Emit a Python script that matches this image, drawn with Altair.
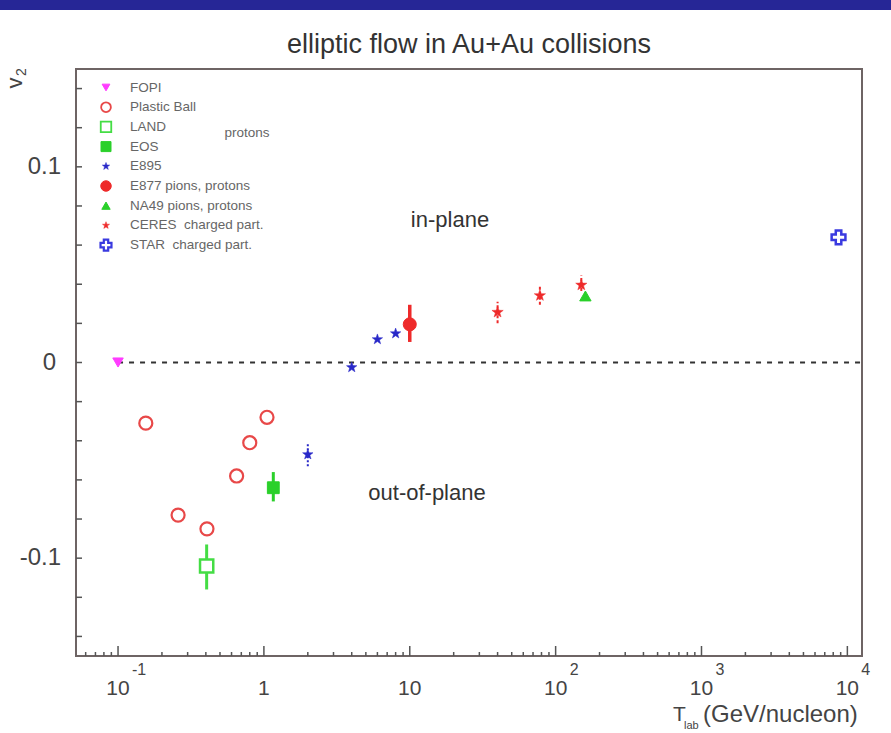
import altair as alt
import pandas as pd

# ---------------- data ----------------
fopi_x = [0.1]
fopi_y = [0.0]

plastic_x = [0.155, 0.258, 0.407, 0.65, 0.80, 1.05]
plastic_y = [-0.031, -0.078, -0.085, -0.058, -0.041, -0.028]

land_x = [0.405]
land_y = [-0.104]
land_lo = [-0.116]
land_hi = [-0.093]

eos_x = [1.16]
eos_y = [-0.064]
eos_lo = [-0.071]
eos_hi = [-0.056]

e895_x = [2.0, 4.0, 6.0, 8.0]
e895_y = [-0.047, -0.0025, 0.0118, 0.0148]
e895_err_x = [2.0]
e895_lo = [-0.053]
e895_hi = [-0.041]

e877_x = [10.0]
e877_y = [0.0195]
e877_lo = [0.0105]
e877_hi = [0.0295]

na49_x = [160.0]
na49_y = [0.034]

ceres_x = [40.0, 78.0, 150.0]
ceres_y = [0.0257, 0.0342, 0.0396]
ceres_lo = [0.0200, 0.0295, 0.0365]
ceres_hi = [0.0310, 0.0395, 0.0445]

star_x = [8700.0]
star_y = [0.064]

zero_line_x = [0.1]
zero_line_x2 = [12600.0]

# axis ticks and labels
x_major = [0.1, 1, 10, 100, 1000, 10000]
x_minor = [0.06, 0.07, 0.08, 0.09] + [m * d for d in (0.1, 1, 10, 100, 1000) for m in range(2, 10)]
y_ticks = [-0.14, -0.12, -0.10, -0.08, -0.06, -0.04, -0.02, 0.0,
           0.02, 0.04, 0.06, 0.08, 0.10, 0.12, 0.14]
x_label_vals = [0.1, 1, 10, 100, 1000, 10000]
x_label_base = ["10", "1", "10", "10", "10", "10"]
x_label_exp = ["-1", "", "", "2", "3", "4"]
y_label_vals = [0.1, 0.0, -0.1]
y_label_text = ["0.1", "0", "-0.1"]
y_label_right = [-15, -20, -15]

legend_labels = ["FOPI", "Plastic Ball", "LAND", "EOS", "E895",
                 "E877 pions, protons", "NA49 pions, protons",
                 "CERES\u00a0\u00a0charged part.", "STAR\u00a0\u00a0charged part."]

# ---------------- style ----------------
W, H = 786, 587
FONT = "Liberation Sans"
STAR = ("M0,-1L0.235,-0.324L0.951,-0.309L0.380,0.124L0.588,0.809L0,0.4"
        "L-0.588,0.809L-0.380,0.124L-0.951,-0.309L-0.235,-0.324Z")
MAGENTA = "#ff3cff"
RED = "#ee2a2a"
RED_OPEN = "#e84848"
GREEN = "#2ad02a"
GREEN_OPEN = "#44dd44"
BLUE = "#2828c8"
BLUE_STAR = "#3a3ae0"

xs = alt.Scale(type="log", domain=[0.0515, 12600], nice=False)
ys = alt.Scale(domain=[-0.15, 0.15], nice=False, zero=False)


def X(f="x"):
    return alt.X(f"{f}:Q", scale=xs, axis=None)


def Y(f="y"):
    return alt.Y(f"{f}:Q", scale=ys, axis=None)


def pts(xv, yv):
    return pd.DataFrame({"x": xv, "y": yv})


def errs(xv, lo, hi):
    return pd.DataFrame({"x": xv, "lo": lo, "hi": hi})


layers = []

# header bar of the slide
layers.append(
    alt.Chart(pd.DataFrame({"a": [0]})).mark_rect(color="#262696").encode(
        x=alt.value(-76), x2=alt.value(815), y=alt.value(-69), y2=alt.value(-59)
    )
)

# zero line
layers.append(
    alt.Chart(pd.DataFrame({"x": zero_line_x, "x2": zero_line_x2, "y": [0.0]}))
    .mark_rule(color="#333333", strokeWidth=2, strokeDash=[5, 6])
    .encode(x=X(), x2="x2:Q", y=Y())
)

# error bars
def errbar(xv, lo, hi, color, width, dash=None):
    kw = dict(color=color, strokeWidth=width)
    if dash:
        kw["strokeDash"] = dash
    return alt.Chart(errs(xv, lo, hi)).mark_rule(**kw).encode(x=X(), y=Y("lo"), y2="hi:Q")

layers.append(errbar(land_x, land_lo, land_hi, GREEN_OPEN, 3))
layers.append(errbar(eos_x, eos_lo, eos_hi, GREEN, 3))
layers.append(errbar(e877_x, e877_lo, e877_hi, RED, 3.5))
layers.append(errbar(e895_err_x, e895_lo, e895_hi, BLUE, 2, [2, 2]))
layers.append(errbar(ceres_x, ceres_lo, ceres_hi, RED, 2, [3, 2]))

# markers
def marker(xv, yv, shape, size, fill, stroke, sw=2):
    return alt.Chart(pts(xv, yv)).mark_point(
        shape=shape, size=size, filled=True, fill=fill, stroke=stroke,
        strokeWidth=sw, opacity=1
    ).encode(x=X(), y=Y())

layers.append(marker(fopi_x, fopi_y, "triangle-down", 110, MAGENTA, MAGENTA, 1))
layers.append(marker(plastic_x, plastic_y, "circle", 170, "white", RED_OPEN, 2.2))
layers.append(marker(land_x, land_y, "square", 175, "white", GREEN_OPEN, 2.5))
layers.append(marker(eos_x, eos_y, "square", 140, GREEN, GREEN, 1))
layers.append(marker(e895_x, e895_y, STAR, 120, BLUE, BLUE, 0.5))
layers.append(marker(e877_x, e877_y, "circle", 170, RED, RED, 1))
layers.append(marker(ceres_x, ceres_y, STAR, 140, RED, RED, 0.5))
layers.append(marker(na49_x, na49_y, "triangle-up", 130, GREEN, GREEN, 1))
layers.append(marker(star_x, star_y, "cross", 190, "white", BLUE_STAR, 2.5))

# legend
leg = pd.DataFrame({
    "label": legend_labels,
    "i": list(range(len(legend_labels))),
    "shape": ["triangle-down", "circle", "square", "square", STAR, "circle",
              "triangle-up", STAR, "cross"],
    "fill": [MAGENTA, "white", "white", GREEN, BLUE, RED, GREEN, RED, "white"],
    "stroke": [MAGENTA, RED_OPEN, GREEN_OPEN, GREEN, BLUE, RED, GREEN, RED, BLUE_STAR],
    "size": [60, 95, 110, 100, 60, 110, 70, 55, 120],
    "sw": [1, 1.8, 1.8, 1, 0.5, 1, 1, 0.5, 2.2],
})
leg_base = alt.Chart(leg).transform_calculate(py="18.5 + 19.7 * datum.i")
layers.append(
    leg_base.mark_point(filled=True, opacity=1).encode(
        x=alt.value(30),
        y=alt.Y("py:Q", scale=None, axis=None),
        shape=alt.Shape("shape:N", scale=None),
        fill=alt.Fill("fill:N", scale=None),
        stroke=alt.Stroke("stroke:N", scale=None),
        size=alt.Size("size:Q", scale=None),
        strokeWidth=alt.StrokeWidth("sw:Q", scale=None),
    )
)
layers.append(
    leg_base.mark_text(align="left", baseline="middle", font=FONT, fontSize=13.5,
                       color="#666666").encode(
        x=alt.value(54), y=alt.Y("py:Q", scale=None, axis=None), text="label:N"
    )
)


def label(txt, x, y, size, color="#333333", align="center", angle=None):
    kw = dict(align=align, baseline="middle", font=FONT, fontSize=size, color=color)
    if angle is not None:
        kw["angle"] = angle
    return alt.Chart(pd.DataFrame({"t": [txt]})).mark_text(**kw).encode(
        text="t:N", x=alt.value(x), y=alt.value(y)
    )

layers.append(label("protons", 171, 64, 13.5, "#666666"))
layers.append(label("in-plane", 374, 151, 22))
layers.append(label("out-of-plane", 351, 424, 22))
layers.append(label("elliptic flow in Au+Au collisions", W / 2, -24, 27))

# y axis title v_2 (rotated)
layers.append(label("v", -61, 14, 22, "#444444", angle=270))
layers.append(label("2", -54, 3, 14, "#444444", angle=270))

# x axis title
layers.append(label("T", 597, H + 59, 21, "#444444", align="left"))
layers.append(label("lab", 608, H + 70, 11, "#444444", align="left"))
layers.append(label("(GeV/nucleon)", 627, H + 59, 24, "#444444", align="left"))

# ticks (inward)
layers.append(
    alt.Chart(pd.DataFrame({"x": x_major})).mark_rule(color="#555555", strokeWidth=1.5)
    .encode(x=X(), y=alt.value(H), y2=alt.value(H - 10))
)
layers.append(
    alt.Chart(pd.DataFrame({"x": x_minor})).mark_rule(color="#555555", strokeWidth=1.5)
    .encode(x=X(), y=alt.value(H), y2=alt.value(H - 4))
)
layers.append(
    alt.Chart(pd.DataFrame({"y": y_ticks})).mark_rule(color="#555555", strokeWidth=1.5)
    .encode(y=Y(), x=alt.value(0), x2=alt.value(6))
)

# tick labels
layers.append(
    alt.Chart(pd.DataFrame({"x": x_label_vals, "t": x_label_base}))
    .mark_text(align="center", baseline="middle", font=FONT, fontSize=21, color="#444444")
    .encode(x=X(), y=alt.value(H + 33), text="t:N")
)
layers.append(
    alt.Chart(pd.DataFrame({"x": x_label_vals, "t": x_label_exp}))
    .mark_text(align="left", baseline="middle", dx=14, font=FONT, fontSize=16, color="#444444")
    .encode(x=X(), y=alt.value(H + 14), text="t:N")
)
layers.append(
    alt.Chart(pd.DataFrame({"y": y_label_vals, "t": y_label_text, "px": y_label_right}))
    .mark_text(align="right", baseline="middle", font=FONT, fontSize=24, color="#444444")
    .encode(y=Y(), x=alt.X("px:Q", scale=None, axis=None), text="t:N")
)

chart = (
    alt.layer(*layers)
    .properties(
        width=W, height=H,
        autosize=alt.AutoSizeParams(type="none"),
        padding={"left": 76, "top": 69, "right": 29, "bottom": 77},
        background="white",
    )
    .configure_view(stroke="#6e6464", strokeWidth=2)
)

chart.save("out.html", embed_options={"renderer": "svg", "actions": False})
